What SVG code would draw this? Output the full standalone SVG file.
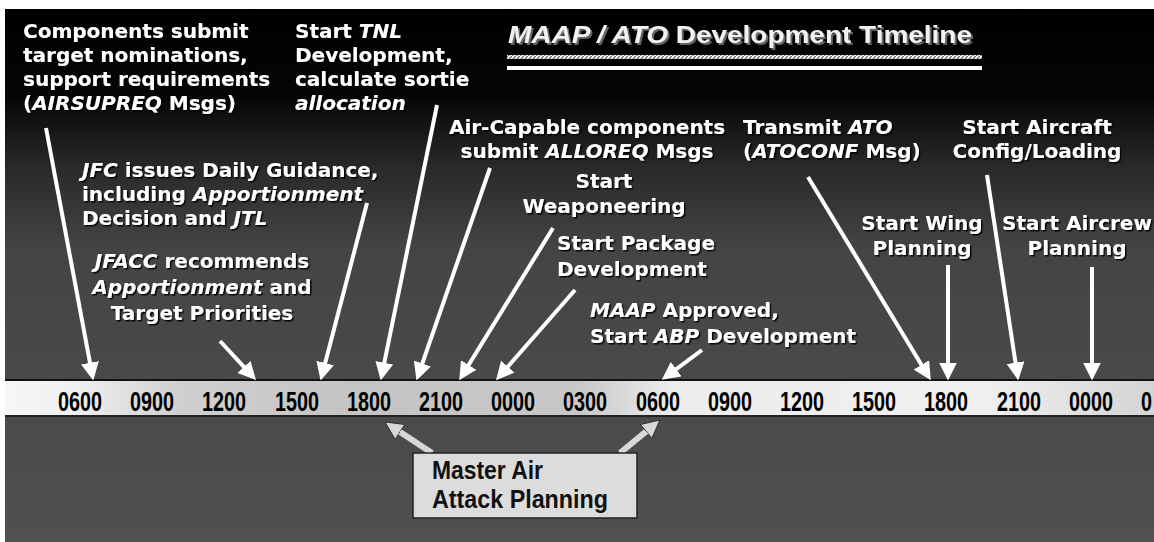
<svg xmlns="http://www.w3.org/2000/svg" width="1154" height="542" viewBox="0 0 1154 542">
<defs>
  <linearGradient id="bg" x1="0" y1="0" x2="0" y2="1">
    <stop offset="0" stop-color="#000"/>
    <stop offset="0.16" stop-color="#050505"/>
    <stop offset="0.3" stop-color="#2a2a2a"/>
    <stop offset="0.45" stop-color="#444"/>
    <stop offset="1" stop-color="#505050"/>
  </linearGradient>
  <linearGradient id="barg" x1="0" y1="0" x2="1" y2="0">
    <stop offset="0" stop-color="#f6f6f6"/>
    <stop offset="0.06" stop-color="#f0f0f0"/>
    <stop offset="0.15" stop-color="#d0d0d0"/>
    <stop offset="0.3" stop-color="#c4c4c4"/>
    <stop offset="0.5" stop-color="#c8c8c8"/>
    <stop offset="0.58" stop-color="#ececec"/>
    <stop offset="0.85" stop-color="#f0f0f0"/>
    <stop offset="1" stop-color="#d4d4d4"/>
  </linearGradient>
  <pattern id="hatch" width="4" height="4" patternUnits="userSpaceOnUse">
    <rect width="4" height="4" fill="#fff"/>
    <path d="M0,4 L4,0" stroke="#777" stroke-width="1.5"/>
  </pattern>
  <filter id="sh" x="-5%" y="-20%" width="110%" height="140%">
    <feDropShadow dx="1.5" dy="1.5" stdDeviation="0" flood-color="#000" flood-opacity="0.9"/>
  </filter>
  <filter id="sh2" x="-5%" y="-20%" width="110%" height="140%">
    <feDropShadow dx="2" dy="2" stdDeviation="0" flood-color="#666" flood-opacity="1"/>
  </filter>
  <marker id="ah" markerUnits="userSpaceOnUse" markerWidth="18" markerHeight="18" viewBox="0 0 16 16" refX="4" refY="8" orient="auto">
    <path d="M0,0 L16,8 L0,16 z" fill="#fff"/>
  </marker>
  <marker id="ah2" markerUnits="userSpaceOnUse" markerWidth="18" markerHeight="18" viewBox="0 0 18 18" refX="4" refY="9" orient="auto">
    <path d="M0,0 L18,9 L0,18 z" fill="#d8d8d8" stroke="#333" stroke-width="1"/>
  </marker>
  <style>
    .t { font-family: "DejaVu Sans", "Liberation Sans", sans-serif; font-weight: bold; font-size: 20px; fill: #fff; filter: url(#sh); }
    .i { font-style: italic; }
    .ttl { font-family: "Liberation Sans", Arial, sans-serif; font-weight: bold; font-size: 23px; fill: #f2f2f2; filter: url(#sh2); }
    .lbl { font-family: "Liberation Sans Narrow", "Liberation Sans", sans-serif; font-weight: bold; font-size: 27px; fill: #000; text-anchor: middle; }
    .box { font-family: "Liberation Sans Narrow", "Liberation Sans", sans-serif; font-weight: bold; font-size: 25px; fill: #111; }
    .arr { stroke: #fff; stroke-width: 4; fill: none; marker-end: url(#ah); }
    .arr2 { stroke: #d8d8d8; stroke-width: 6; fill: none; marker-end: url(#ah2); }
  </style>
</defs>

<rect x="0" y="0" width="1154" height="542" fill="#fff"/>
<rect x="5" y="9" width="1149" height="533" fill="url(#bg)"/>

<g id="title">
  <text class="ttl" x="508" y="43" textLength="464" lengthAdjust="spacingAndGlyphs"><tspan class="i">MAAP / ATO</tspan> Development Timeline</text>
  <rect x="507" y="55" width="475" height="4" fill="url(#hatch)"/>
  <rect x="507" y="66" width="475" height="4" fill="#fff"/>
</g>

<g id="timeline">
  <rect x="5" y="380" width="1149" height="36" fill="url(#barg)"/>
  <rect x="5" y="379" width="1149" height="2" fill="#111"/>
  <rect x="5" y="415" width="1149" height="2" fill="#222"/>
  <text class="lbl" x="80" y="411" textLength="44" lengthAdjust="spacingAndGlyphs">0600</text>
  <text class="lbl" x="152" y="411" textLength="44" lengthAdjust="spacingAndGlyphs">0900</text>
  <text class="lbl" x="224" y="411" textLength="44" lengthAdjust="spacingAndGlyphs">1200</text>
  <text class="lbl" x="297" y="411" textLength="44" lengthAdjust="spacingAndGlyphs">1500</text>
  <text class="lbl" x="369" y="411" textLength="44" lengthAdjust="spacingAndGlyphs">1800</text>
  <text class="lbl" x="441" y="411" textLength="44" lengthAdjust="spacingAndGlyphs">2100</text>
  <text class="lbl" x="513" y="411" textLength="44" lengthAdjust="spacingAndGlyphs">0000</text>
  <text class="lbl" x="585" y="411" textLength="44" lengthAdjust="spacingAndGlyphs">0300</text>
  <text class="lbl" x="658" y="411" textLength="44" lengthAdjust="spacingAndGlyphs">0600</text>
  <text class="lbl" x="730" y="411" textLength="44" lengthAdjust="spacingAndGlyphs">0900</text>
  <text class="lbl" x="802" y="411" textLength="44" lengthAdjust="spacingAndGlyphs">1200</text>
  <text class="lbl" x="874" y="411" textLength="44" lengthAdjust="spacingAndGlyphs">1500</text>
  <text class="lbl" x="946" y="411" textLength="44" lengthAdjust="spacingAndGlyphs">1800</text>
  <text class="lbl" x="1019" y="411" textLength="44" lengthAdjust="spacingAndGlyphs">2100</text>
  <text class="lbl" x="1091" y="411" textLength="44" lengthAdjust="spacingAndGlyphs">0000</text>
  <text class="lbl" x="1141" y="411" style="text-anchor:start" textLength="11" lengthAdjust="spacingAndGlyphs">0</text>
</g>

<g id="connectors">
  <line class="arr" x1="46" y1="128" x2="90.8" y2="367.2"/>
  <line class="arr" x1="220" y1="341" x2="246.9" y2="370.2"/>
  <line class="arr" x1="367" y1="203" x2="324" y2="367.4"/>
  <line class="arr" x1="437" y1="105" x2="383.4" y2="367.2"/>
  <line class="arr" x1="490" y1="168" x2="420.9" y2="367.7"/>
  <line class="arr" x1="553" y1="228" x2="466.3" y2="368.8"/>
  <line class="arr" x1="575" y1="290" x2="504.9" y2="370"/>
  <line class="arr" x1="702" y1="350" x2="672.6" y2="371.8"/>
  <line class="arr" x1="808" y1="177" x2="923.8" y2="368.7"/>
  <line class="arr" x1="948" y1="265" x2="948" y2="367"/>
  <line class="arr" x1="987" y1="175" x2="1016.2" y2="367.1"/>
  <line class="arr" x1="1092" y1="267" x2="1092" y2="367"/>
  <line class="arr2" x1="432" y1="453" x2="396.7" y2="429.7"/>
  <line class="arr2" x1="620" y1="453" x2="649.2" y2="428.9"/>
</g>

<g id="n-components">
  <text class="t" x="23" y="38">Components submit</text>
  <text class="t" x="23" y="62">target nominations,</text>
  <text class="t" x="23" y="86">support requirements</text>
  <text class="t" x="23" y="110">(<tspan class="i">AIRSUPREQ</tspan> Msgs)</text>
</g>

<g id="n-tnl">
  <text class="t" x="295" y="38">Start <tspan class="i">TNL</tspan></text>
  <text class="t" x="295" y="62">Development,</text>
  <text class="t" x="295" y="86">calculate sortie</text>
  <text class="t i" x="295" y="110">allocation</text>
</g>

<g id="n-jfc">
  <text class="t" x="82" y="177"><tspan class="i">JFC</tspan> issues Daily Guidance,</text>
  <text class="t" x="82" y="201">including <tspan class="i">Apportionment</tspan></text>
  <text class="t" x="82" y="225">Decision and <tspan class="i">JTL</tspan></text>
</g>

<g id="n-jfacc" text-anchor="middle">
  <text class="t" x="202" y="268"><tspan class="i">JFACC</tspan> recommends</text>
  <text class="t" x="202" y="294"><tspan class="i">Apportionment</tspan> and</text>
  <text class="t" x="202" y="320">Target Priorities</text>
</g>

<g id="n-alloreq" text-anchor="middle">
  <text class="t" x="587" y="134">Air-Capable components</text>
  <text class="t" x="587" y="158">submit <tspan class="i">ALLOREQ</tspan> Msgs</text>
</g>

<g id="n-weaponeering" text-anchor="middle">
  <text class="t" x="604" y="188">Start</text>
  <text class="t" x="604" y="213">Weaponeering</text>
</g>

<g id="n-package">
  <text class="t" x="557" y="250">Start Package</text>
  <text class="t" x="557" y="276">Development</text>
</g>

<g id="n-maap">
  <text class="t" x="590" y="317"><tspan class="i">MAAP</tspan> Approved,</text>
  <text class="t" x="590" y="343">Start <tspan class="i">ABP</tspan> Development</text>
</g>

<g id="n-transmit">
  <text class="t" x="743" y="134">Transmit <tspan class="i">ATO</tspan></text>
  <text class="t" x="743" y="158">(<tspan class="i">ATOCONF</tspan> Msg)</text>
</g>

<g id="n-aircraft" text-anchor="middle">
  <text class="t" x="1037" y="134">Start Aircraft</text>
  <text class="t" x="1037" y="158">Config/Loading</text>
</g>

<g id="n-wing" text-anchor="middle">
  <text class="t" x="922" y="230">Start Wing</text>
  <text class="t" x="922" y="255">Planning</text>
</g>

<g id="n-aircrew" text-anchor="middle">
  <text class="t" x="1077" y="230">Start Aircrew</text>
  <text class="t" x="1077" y="255">Planning</text>
</g>

<g id="n-master">
  <rect x="413" y="453" width="224" height="65" fill="#dcdcdc" stroke="#222" stroke-width="1.5"/>
  <text class="box" x="432" y="479" textLength="111" lengthAdjust="spacingAndGlyphs">Master Air</text>
  <text class="box" x="432" y="508" textLength="176" lengthAdjust="spacingAndGlyphs">Attack Planning</text>
</g>
</svg>
